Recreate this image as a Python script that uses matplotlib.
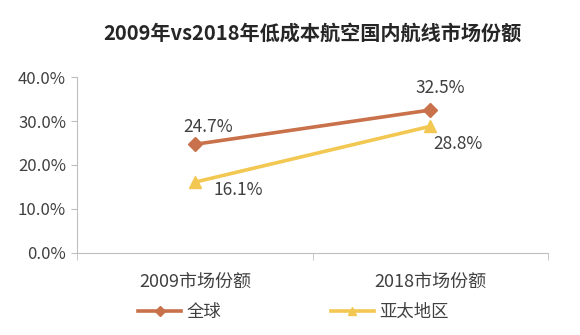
import matplotlib
matplotlib.use("Agg")
import matplotlib.pyplot as plt

plt.rcParams['font.family'] = ['Noto Sans CJK SC', 'DejaVu Sans']

categories = ["2009市场份额", "2018市场份额"]
series_names = ["全球", "亚太地区"]
global_vals = [24.7, 32.5]
apac_vals = [16.1, 28.8]
yticks = [0, 10, 20, 30, 40]
title = "2009年vs2018年低成本航空国内航线市场份额"

c_global = "#C8714B"
c_apac = "#F2C852"
txt = "#404040"

fig = plt.figure(figsize=(5.8, 3.35), dpi=100)
ax = fig.add_axes([0.133, 0.245, 0.812, 0.525])

x = list(range(len(categories)))
ax.plot(x, global_vals, color=c_global, lw=2.6, marker="D", ms=7, label=series_names[0], zorder=3)
ax.plot(x, apac_vals, color=c_apac, lw=2.6, marker="^", ms=9, label=series_names[1], zorder=3)

ax.set_xlim(-0.5, 1.5)
ax.set_ylim(0, 40)
ax.set_yticks(yticks)
ax.set_yticklabels([f"{v:.1f}%" for v in yticks], fontsize=12, color=txt)
ax.set_xticks(x)
ax.set_xticklabels(categories, fontsize=13, color=txt)
ax.tick_params(axis="x", length=0, pad=14)
ax.set_xticks([-0.5, 0.5, 1.5], minor=True)
ax.tick_params(axis="x", which="minor", length=5, color="#BFBFBF")
ax.tick_params(axis="y", length=4, color="#BFBFBF", pad=4)

for s in ["top", "right"]:
    ax.spines[s].set_visible(False)
for s in ["left", "bottom"]:
    ax.spines[s].set_color("#BFBFBF")

lab_kw = dict(textcoords="offset points", ha="center", va="center", fontsize=12.5, color=txt)
ax.annotate(f"{global_vals[0]}%", (x[0], global_vals[0]), xytext=(9.4, 12.5), **lab_kw)
ax.annotate(f"{global_vals[1]}%", (x[1], global_vals[1]), xytext=(7.2, 15.8), **lab_kw)
ax.annotate(f"{apac_vals[0]}%", (x[0], apac_vals[0]), xytext=(31, -6), **lab_kw)
ax.annotate(f"{apac_vals[1]}%", (x[1], apac_vals[1]), xytext=(20, -13), **lab_kw)

fig.text(0.539, 0.9, title, ha="center", va="center", fontsize=14.5, fontweight="bold", color="#262626")

fig.legend(loc="center", bbox_to_anchor=(0.506, 0.069), ncol=2, frameon=False, fontsize=12.5,
           handlelength=2.5, handletextpad=0.3, columnspacing=6.3, labelcolor=txt,
           markerscale=0.7)

fig.savefig("out.png", dpi=100, facecolor="white")
